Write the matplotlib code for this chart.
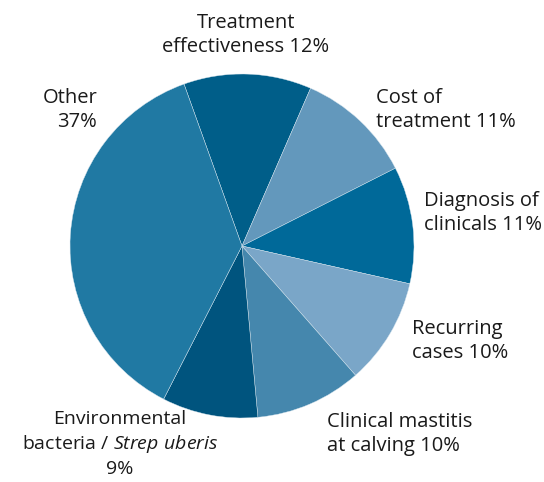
import matplotlib
matplotlib.use("Agg")
import matplotlib.pyplot as plt

labels = ["Treatment\neffectiveness 12%", "Cost of\ntreatment 11%", "Diagnosis of\nclinicals 11%",
          "Recurring\ncases 10%", "Clinical mastitis\nat calving 10%",
          "Environmental\nbacteria / $\\mathit{Strep\\ uberis}$\n9%", "Other\n37%"]
values = [12, 11, 11, 10, 10, 9, 37]
colors = ["#005e89", "#6398bc", "#006999", "#7aa6c8", "#4587ad", "#00547e", "#2079a3"]

# label placement (pixel coords in 544x482 figure) and alignment
label_pos = [(246, 35), (376, 110), (424, 213), (412, 341), (327, 434), (120, 444), (97, 110)]
label_ha = ["center", "left", "left", "left", "left", "center", "right"]
label_size = [14.5, 14.5, 14.5, 14.5, 14.5, 14, 14.5]

plt.rcParams['font.family'] = ['Open Sans', 'DejaVu Sans']
plt.rcParams['mathtext.fontset'] = 'custom'
plt.rcParams['mathtext.rm'] = 'Open Sans'
plt.rcParams['mathtext.it'] = 'Open Sans:italic'

W, H = 544, 482
cx, cy, R = 242, 246, 172
fig = plt.figure(figsize=(W / 100, H / 100), dpi=100)
ax = fig.add_axes([0, 0, 1, 1])

ax.pie(values, colors=colors, startangle=109.7, counterclock=False, radius=1,
       wedgeprops=dict(edgecolor='#d8e6ef', linewidth=0.3))
ax.set_xlim(-cx / R, (W - cx) / R)
ax.set_ylim(-(H - cy) / R, cy / R)
ax.set_aspect('equal')
ax.axis('off')

for lab, (px, py), ha, fs in zip(labels, label_pos, label_ha, label_size):
    ax.text((px - cx) / R, (cy - py) / R, lab, ha=ha, va='center', multialignment=ha,
            fontsize=fs, color='#1a1a1a', linespacing=1.33)

fig.savefig("out.png", dpi=100)
